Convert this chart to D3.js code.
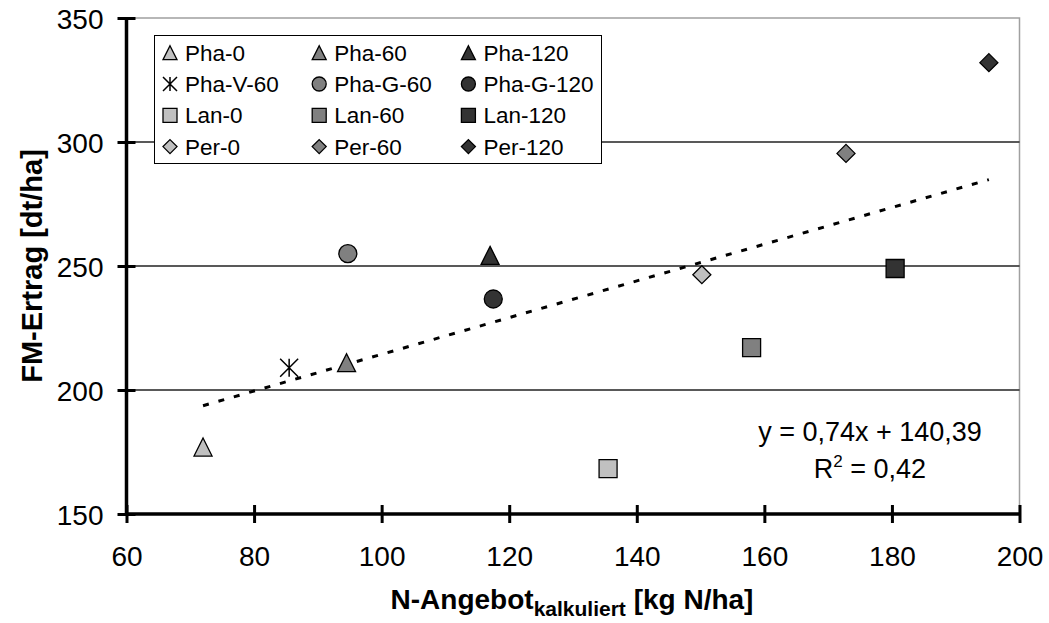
<!DOCTYPE html>
<html>
<head>
	<meta charset="utf-8">
	<title>FM-Ertrag vs. N-Angebot</title>
	<script type="text/javascript" src="https://cdn.jsdelivr.net/npm/d3@7"></script>
	<style>
		body {
			margin: 0;
			font-family: "Liberation Sans", Arial, Helvetica, sans-serif;
			background: #fff;
		}
	</style>
</head>

<body>

	<div id="chart"></div>

	<script>

		// data

		const labels   = ["Pha-0", "Pha-60", "Pha-120", "Pha-V-60", "Pha-G-60", "Pha-G-120",
		                  "Lan-0", "Lan-60", "Lan-120", "Per-0", "Per-60", "Per-120"];
		const nSupply  = [72.0, 94.5, 117.0, 85.5, 94.7, 117.5, 135.5, 158.0, 180.5, 150.2, 172.8, 195.2];
		const fmYield  = [177.0, 211.0, 254.3, 209.0, 255.0, 236.7, 168.3, 217.1, 249.0, 246.5, 295.4, 332.0];

		const xTicks   = [60, 80, 100, 120, 140, 160, 180, 200];
		const yTicks   = [150, 200, 250, 300, 350];
		const gridVals = [200, 250, 300];

		const trendSlope     = 0.74;
		const trendIntercept = 140.39;
		const trendText      = "y = 0,74x + 140,39";
		const r2Text         = "0,42";

		const xLabel    = "N-Angebot";
		const xLabelSub = "kalkuliert";
		const xLabelEnd = " [kg N/ha]";
		const yLabel    = "FM-Ertrag [dt/ha]";

		// customization

		const width  = 1049;
		const height = 623;
		const font   = '"Liberation Sans", Arial, sans-serif';

		// marker style by series group and dose
		const shapeOf = name => {
			if (name.startsWith("Pha-V")) return "star";
			if (name.startsWith("Pha-G")) return "circle";
			if (name.startsWith("Pha"))   return "triangle";
			if (name.startsWith("Lan"))   return "square";
			return "diamond";
		};
		const fillOf = name => {
			if (name.endsWith("-120")) return "#333333";
			if (name.endsWith("-60"))  return "#808080";
			return "#c0c0c0";
		};

		function markerPath(shape, s) {
			const h = s / 2;
			const p = d3.path();
			if (shape === "triangle") {
				p.moveTo(0, -h); p.lineTo(h, h); p.lineTo(-h, h); p.closePath();
			} else if (shape === "square") {
				p.rect(-h, -h, s, s);
			} else if (shape === "diamond") {
				p.moveTo(0, -h); p.lineTo(h, 0); p.lineTo(0, h); p.lineTo(-h, 0); p.closePath();
			} else if (shape === "circle") {
				p.arc(0, 0, h, 0, 2 * Math.PI);
			} else {
				p.moveTo(0, -h); p.lineTo(0, h);
				p.moveTo(-h, -h); p.lineTo(h, h);
				p.moveTo(-h, h); p.lineTo(h, -h);
			}
			return p.toString();
		}

		function drawMarker(g, name, size) {
			const shape = shapeOf(name);
			g.append("path")
				.attr("d", markerPath(shape, size))
				.attr("fill", shape === "star" ? "none" : fillOf(name))
				.attr("stroke", "#000")
				.attr("stroke-width", shape === "star" ? 1.5 : 1.3);
		}

		const svg = d3.select("#chart")
			.append("svg")
			.attr("width", width)
			.attr("height", height)
			.attr("viewBox", [0, 0, width, height])
			.style("font-family", font);

		const x = d3.scaleLinear([60, 200], [126.5, 1019.5]);
		const y = d3.scaleLinear([150, 350], [514, 18]);

		// plot frame (top and right)
		svg.append("path")
			.attr("d", `M${x(60)},${y(350)}H${x(200)}V${y(150)}`)
			.attr("fill", "none")
			.attr("stroke", "#a0a0a0")
			.attr("stroke-width", 1.5);

		// gridlines
		svg.append("g")
			.selectAll("line")
			.data(gridVals)
			.join("line")
			.attr("x1", x(60))
			.attr("x2", x(200))
			.attr("y1", d => y(d))
			.attr("y2", d => y(d))
			.attr("stroke", "#222")
			.attr("stroke-width", 1.5);

		// trendline
		const xExt = d3.extent(nSupply);
		svg.append("line")
			.attr("x1", x(xExt[0]))
			.attr("y1", y(trendSlope * xExt[0] + trendIntercept))
			.attr("x2", x(xExt[1]))
			.attr("y2", y(trendSlope * xExt[1] + trendIntercept))
			.attr("stroke", "#000")
			.attr("stroke-width", 3)
			.attr("stroke-dasharray", "6,10");

		// points
		svg.append("g")
			.selectAll("g")
			.data(d3.range(labels.length))
			.join("g")
			.attr("transform", i => `translate(${x(nSupply[i])},${y(fmYield[i])})`)
			.each(function (i) { drawMarker(d3.select(this), labels[i], 18); });

		// axes
		svg.append("g")
			.attr("transform", `translate(0,${y(150)})`)
			.call(d3.axisBottom(x).tickValues(xTicks).tickSize(18).tickPadding(0))
			.call(g => g.select(".domain").attr("stroke-width", 3.5).attr("d", `M${x(60)},0H${x(200)}`))
			.call(g => g.selectAll(".tick line").attr("y1", -9).attr("y2", 9).attr("stroke-width", 3))
			.call(g => g.selectAll(".tick text")
				.attr("y", 52).attr("dy", 0)
				.attr("fill", "#000")
				.style("font-size", "28px")
				.style("font-family", font));

		svg.append("g")
			.attr("transform", `translate(${x(60)},0)`)
			.call(d3.axisLeft(y).tickValues(yTicks).tickSize(18).tickPadding(0))
			.call(g => g.select(".domain").attr("stroke-width", 3.5).attr("d", `M0,${y(350)}V${y(150)}`))
			.call(g => g.selectAll(".tick line").attr("x1", -9).attr("x2", 9).attr("stroke-width", 3))
			.call(g => g.selectAll(".tick text")
				.attr("x", -23).attr("dy", "0.36em")
				.attr("fill", "#000")
				.style("font-size", "28px")
				.style("font-family", font));

		// axis titles
		const xt = svg.append("text")
			.attr("x", 572)
			.attr("y", 609)
			.attr("text-anchor", "middle")
			.attr("font-weight", "bold")
			.attr("font-size", 28);
		xt.append("tspan").text(xLabel);
		xt.append("tspan").attr("font-size", 21).attr("dy", 7).text(xLabelSub);
		xt.append("tspan").attr("dy", -7).text(xLabelEnd);

		svg.append("text")
			.attr("transform", `translate(42,${y(250)}) rotate(-90)`)
			.attr("text-anchor", "middle")
			.attr("font-weight", "bold")
			.attr("font-size", 29)
			.text(yLabel);

		// equation
		svg.append("text")
			.attr("x", 870)
			.attr("y", 441)
			.attr("text-anchor", "middle")
			.attr("font-size", 27)
			.text(trendText);
		const r2 = svg.append("text")
			.attr("x", 870)
			.attr("y", 478)
			.attr("text-anchor", "middle")
			.attr("font-size", 27);
		r2.append("tspan").text("R");
		r2.append("tspan").attr("font-size", 17).attr("dy", -11).text("2");
		r2.append("tspan").attr("dy", 11).text(" = " + r2Text);

		// legend
		const legend = svg.append("g");
		legend.append("rect")
			.attr("x", 154.5)
			.attr("y", 35.5)
			.attr("width", 447)
			.attr("height", 128)
			.attr("fill", "#fff")
			.attr("stroke", "#000")
			.attr("stroke-width", 1);

		const legendItem = legend.selectAll("g.item")
			.data(labels)
			.join("g")
			.attr("class", "item")
			.attr("transform", (d, i) => `translate(${170 + (i % 3) * 149.2},${52.7 + Math.floor(i / 3) * 31.3})`);

		legendItem.each(function (d) { drawMarker(d3.select(this), d, 14); });

		legendItem.append("text")
			.attr("x", 15)
			.attr("dy", "0.36em")
			.attr("font-size", 22.5)
			.text(d => d);

	</script>

</body>

</html>
